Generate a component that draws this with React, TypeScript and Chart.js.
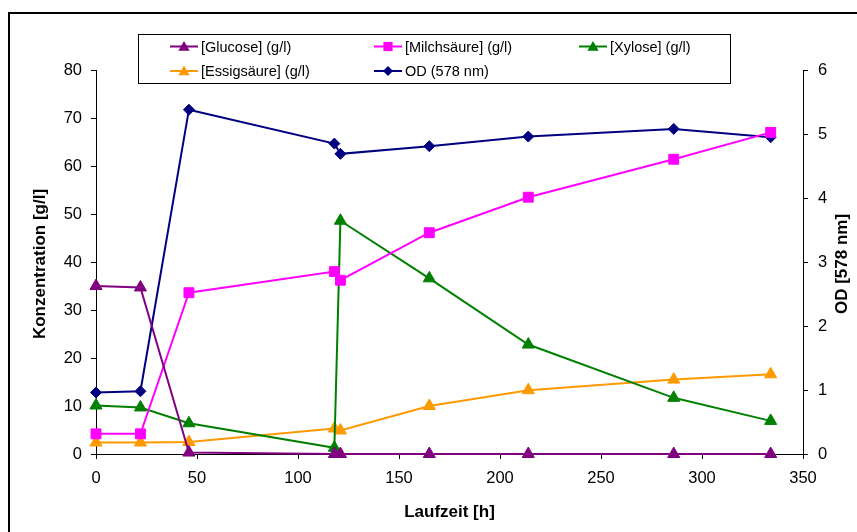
import React, { useEffect, useRef } from "react";
import { Chart, registerables } from "chart.js";

Chart.register(...registerables);

// Laufzeit [h]
const times = [0, 22, 46, 118, 121, 165, 214, 286, 334];
// Konzentrationen [g/l]
const glucose = [35.0, 34.7, 0.3, 0, 0, 0, 0, 0, 0];
const milchsaeure = [4.2, 4.2, 33.6, 38.0, 36.2, 46.1, 53.5, 61.4, 67.0];
const xylose = [10.1, 9.7, 6.4, 1.3, 48.6, 36.6, 22.8, 11.7, 6.9];
const essigsaeure = [2.4, 2.4, 2.5, 5.3, 4.9, 10.0, 13.3, 15.5, 16.6];
// OD (578 nm)
const od = [0.96, 0.98, 5.38, 4.85, 4.69, 4.81, 4.96, 5.08, 4.95];

const seriesLabels = [
  "[Glucose] (g/l)",
  "[Milchsäure] (g/l)",
  "[Xylose] (g/l)",
  "[Essigsäure] (g/l)",
  "OD (578 nm)",
];
const xTitle = "Laufzeit [h]";
const yTitle = "Konzentration [g/l]";
const y2Title = "OD [578 nm]";

const FONT = "'Liberation Sans', Arial, sans-serif";

const colors = ["#800080", "#FF00FF", "#008000", "#FF9900", "#000080"];
const shapes = ["triangle", "rect", "triangle", "triangle", "rectRot"];
const radii = [7, 7, 7, 7, 5.5];

function drawShape(ctx: CanvasRenderingContext2D, shape: string, x: number, y: number, r: number, color: string) {
  ctx.save();
  ctx.fillStyle = color;
  ctx.beginPath();
  if (shape === "triangle") {
    const w = r * Math.sin(Math.PI / 3);
    ctx.moveTo(x, y - r);
    ctx.lineTo(x + w, y + r / 2);
    ctx.lineTo(x - w, y + r / 2);
    ctx.closePath();
  } else if (shape === "rect") {
    const s = r * Math.SQRT1_2;
    ctx.rect(x - s, y - s, 2 * s, 2 * s);
  } else {
    ctx.moveTo(x, y - r);
    ctx.lineTo(x + r, y);
    ctx.lineTo(x, y + r);
    ctx.lineTo(x - r, y);
    ctx.closePath();
  }
  ctx.fill();
  ctx.restore();
}

const decorPlugin = {
  id: "decor",
  beforeDraw(chart: any) {
    const ctx = chart.ctx as CanvasRenderingContext2D;
    ctx.save();
    ctx.fillStyle = "#000";
    ctx.fillRect(8, 12, 2, 532 - 12);
    ctx.fillRect(8, 12, 857 - 8, 2);
    ctx.restore();
  },
  afterDraw(chart: any) {
    const ctx = chart.ctx as CanvasRenderingContext2D;
    const area = chart.chartArea;
    ctx.save();
    ctx.fillStyle = "#000";
    ctx.font = `bold 17px ${FONT}`;
    ctx.textAlign = "center";
    ctx.textBaseline = "middle";
    ctx.fillText(xTitle, (area.left + area.right) / 2, 512);
    ctx.save();
    ctx.translate(40, 264);
    ctx.rotate(-Math.PI / 2);
    ctx.fillText(yTitle, 0, 0);
    ctx.restore();
    ctx.save();
    ctx.translate(842, 264);
    ctx.rotate(-Math.PI / 2);
    ctx.fillText(y2Title, 0, 0);
    ctx.restore();

    // legend
    const bx = 138, by = 34, bw = 592, bh = 49;
    ctx.strokeStyle = "#000";
    ctx.lineWidth = 1;
    ctx.strokeRect(bx + 0.5, by + 0.5, bw, bh);
    const colX = [184, 388, 593];
    const rowY = [46.5, 71];
    ctx.font = `14.5px ${FONT}`;
    ctx.textAlign = "left";
    seriesLabels.forEach((lab, i) => {
      const cx = colX[i % 3];
      const cy = rowY[Math.floor(i / 3)];
      ctx.strokeStyle = colors[i];
      ctx.lineWidth = 2;
      ctx.beginPath();
      ctx.moveTo(cx - 14, cy);
      ctx.lineTo(cx + 14, cy);
      ctx.stroke();
      drawShape(ctx, shapes[i], cx, cy + (shapes[i] === "triangle" ? 1 : 0), radii[i] - 0.5, colors[i]);
      ctx.fillStyle = "#000";
      ctx.fillText(lab, cx + 17, cy + 1);
    });
    ctx.restore();
  },
};

export default function App() {
  const ref = useRef<HTMLCanvasElement | null>(null);
  useEffect(() => {
    if (!ref.current) return;
    const arrays = [glucose, milchsaeure, xylose, essigsaeure, od];
    const datasets = arrays.map((arr, i) => ({
      label: seriesLabels[i],
      data: times.map((t, j) => ({ x: t, y: arr[j] })),
      borderColor: colors[i],
      backgroundColor: colors[i],
      pointBackgroundColor: colors[i],
      pointBorderColor: colors[i],
      pointBorderWidth: 1,
      pointStyle: shapes[i] as any,
      pointRadius: radii[i],
      borderWidth: 2,
      yAxisID: i === 4 ? "y2" : "y",
      clip: false as any,
      tension: 0,
    }));
    const axisCommon = {
      grid: { display: true, drawOnChartArea: false, drawTicks: true, tickLength: 5, color: "#000", lineWidth: 1 },
      border: { display: true, color: "#000", width: 1 },
    };
    const chart = new Chart(ref.current, {
      type: "line",
      data: { datasets: datasets as any },
      plugins: [decorPlugin],
      options: {
        animation: false,
        responsive: false,
        devicePixelRatio: 1,
        layout: { padding: { top: 70, left: 0, right: 0, bottom: 0 } },
        plugins: { legend: { display: false }, tooltip: { enabled: false } },
        scales: {
          x: {
            type: "linear",
            position: "bottom",
            min: 0,
            max: 350,
            ticks: { stepSize: 50, color: "#000", font: { family: FONT, size: 16.5 }, padding: 10, maxRotation: 0 },
            afterFit: (s: any) => { s.height = 78; },
            ...axisCommon,
          },
          y: {
            type: "linear",
            position: "left",
            min: 0,
            max: 80,
            ticks: { stepSize: 10, color: "#000", font: { family: FONT, size: 16.5 }, padding: 9 },
            afterFit: (s: any) => { s.width = 96; },
            ...axisCommon,
          },
          y2: {
            type: "linear",
            position: "right",
            min: 0,
            max: 6,
            ticks: { stepSize: 1, color: "#000", font: { family: FONT, size: 16.5 }, padding: 10 },
            afterFit: (s: any) => { s.width = 54; },
            ...axisCommon,
          },
        },
      } as any,
    });
    return () => chart.destroy();
  }, []);
  return (
    <canvas
      ref={ref}
      width={857}
      height={532}
      style={{ position: "fixed", left: 0, top: 0, width: 857, height: 532, display: "block" }}
    />
  );
}
